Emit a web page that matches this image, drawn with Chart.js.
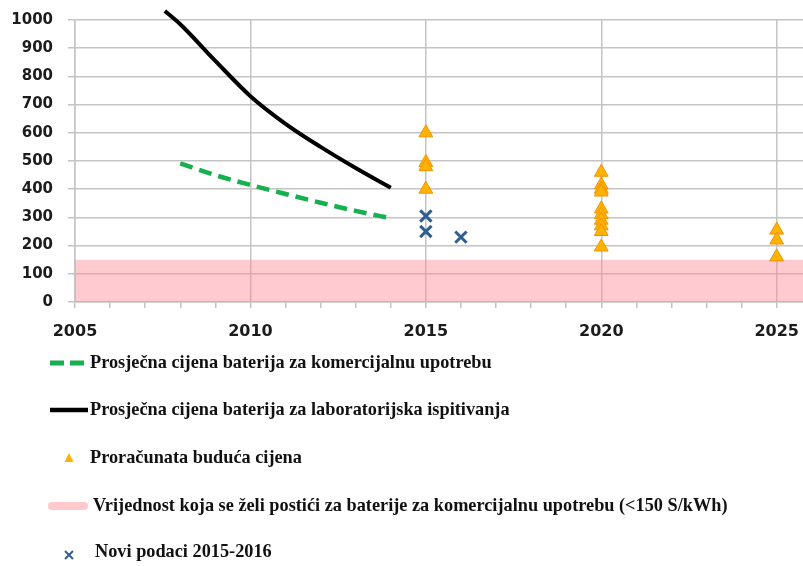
<!DOCTYPE html>
<html>
<head>
<meta charset="utf-8">
<script src="https://cdn.jsdelivr.net/npm/chart.js@4.4.1/dist/chart.umd.min.js"></script>
<style>
  html, body { margin: 0; padding: 0; background: #ffffff; }
  canvas { display: block; }
</style>
</head>
<body>
<canvas id="chart" width="803" height="566"></canvas>
<script>
// Average price of commercial battery packs ($/kWh)
const commercialYears = [2008, 2009, 2010, 2011, 2012, 2013, 2014];
const commercialPrice = [492, 450, 415, 383, 352, 323, 297];

// Average price of laboratory-tested cells ($/kWh)
const labYears = [2007.56, 2008, 2009, 2010, 2011, 2012, 2013, 2014];
const labPrice = [1032, 985, 855, 730, 632, 550, 475, 405];

// Projected future prices
const projectedYears = [2015, 2015, 2015, 2015,
  2020, 2020, 2020, 2020, 2020, 2020, 2020, 2020, 2020, 2020,
  2025, 2025, 2025];
const projectedPrice = [600, 495, 480, 400,
  460, 415, 400, 390, 330, 310, 290, 270, 250, 195,
  255, 220, 160];

// New data points 2015-2016
const newYears = [2015, 2015, 2016];
const newPrice = [305, 250, 230];

// Target band for commercial batteries (<150 $/kWh)
const targetYears = [2005, 2025.75];
const targetPrice = [150, 150];

// Axis ticks: one minor tick per year, labels every five years
const yTickValues = [0, 100, 200, 300, 400, 500, 600, 700, 800, 900, 1000];
const xTickYears = [2005, 2006, 2007, 2008, 2009, 2010, 2011, 2012, 2013, 2014, 2015,
  2016, 2017, 2018, 2019, 2020, 2021, 2022, 2023, 2024, 2025];
const xTickLabels = [2005, 2010, 2015, 2020, 2025];

const legendLabels = [
  'Prosječna cijena baterija za komercijalnu upotrebu',
  'Prosječna cijena baterija za laboratorijska ispitivanja',
  'Proračunata buduća cijena',
  'Vrijednost koja se želi postići za baterije za komercijalnu upotrebu (<150 S/kWh)',
  'Novi podaci 2015-2016'
];

const GREEN = '#16b04e';
const BLACK = '#000000';
const TRI_FILL = '#ffb300';
const TRI_EDGE = '#f39200';
const CROSS = '#2f5f92';
const PINK = 'rgba(255,140,150,0.45)';
const GRID = '#c4c4c4';

const toPoints = (xs, ys) => xs.map((x, i) => ({ x: x, y: ys[i] }));

// Scales keep no extra room for edge labels; the layout padding decides the plot box
const noEdgePadding = scale => {
  scale.paddingLeft = 0;
  scale.paddingRight = 0;
  scale.paddingTop = 0;
  scale.paddingBottom = 0;
};

// Legend drawn on the canvas below the plot
const sideLegend = {
  id: 'sideLegend',
  afterDraw(chart) {
    const ctx = chart.ctx;
    ctx.save();
    ctx.font = 'bold 18.3px "Liberation Serif"';
    ctx.fillStyle = '#111111';
    ctx.textBaseline = 'middle';
    ctx.textAlign = 'left';

    // 1: green dashed line
    ctx.strokeStyle = GREEN;
    ctx.lineWidth = 5;
    ctx.setLineDash([14, 6]);
    ctx.beginPath(); ctx.moveTo(50, 363); ctx.lineTo(84, 363); ctx.stroke();
    ctx.setLineDash([]);
    ctx.fillText(legendLabels[0], 90, 363);

    // 2: black line
    ctx.strokeStyle = BLACK;
    ctx.lineWidth = 4.5;
    ctx.beginPath(); ctx.moveTo(50, 410); ctx.lineTo(88, 410); ctx.stroke();
    ctx.fillText(legendLabels[1], 90, 410);

    // 3: triangle
    ctx.fillStyle = TRI_FILL;
    ctx.beginPath();
    ctx.moveTo(69, 453); ctx.lineTo(73.5, 462); ctx.lineTo(64.5, 462); ctx.closePath();
    ctx.fill();
    ctx.fillStyle = '#111111';
    ctx.fillText(legendLabels[2], 90, 458);

    // 4: pink band sample
    ctx.strokeStyle = '#ffc9ce';
    ctx.lineWidth = 8;
    ctx.lineCap = 'round';
    ctx.beginPath(); ctx.moveTo(52, 506); ctx.lineTo(84, 506); ctx.stroke();
    ctx.lineCap = 'butt';
    ctx.fillText(legendLabels[3], 93, 506);

    // 5: blue cross
    ctx.strokeStyle = CROSS;
    ctx.lineWidth = 2;
    ctx.beginPath();
    ctx.moveTo(65, 551); ctx.lineTo(73, 559);
    ctx.moveTo(73, 551); ctx.lineTo(65, 559);
    ctx.stroke();
    ctx.fillText(legendLabels[4], 95, 552);
    ctx.restore();
  }
};

Chart.defaults.font.family = '"DejaVu Sans"';

new Chart(document.getElementById('chart'), {
  type: 'line',
  data: {
    datasets: [
      {
        label: legendLabels[2],
        data: toPoints(projectedYears, projectedPrice),
        showLine: false,
        pointStyle: 'triangle',
        pointRadius: 8,
        pointBackgroundColor: TRI_FILL,
        pointBorderColor: TRI_EDGE,
        pointBorderWidth: 1
      },
      {
        label: legendLabels[4],
        data: toPoints(newYears, newPrice),
        showLine: false,
        pointStyle: 'crossRot',
        pointRadius: 8,
        pointBorderColor: CROSS,
        pointBorderWidth: 3
      },
      {
        label: legendLabels[1],
        data: toPoints(labYears, labPrice),
        borderColor: BLACK,
        borderWidth: 4,
        pointRadius: 0,
        cubicInterpolationMode: 'monotone',
        clip: { left: 0, top: 14, right: 0, bottom: 0 }
      },
      {
        label: legendLabels[0],
        data: toPoints(commercialYears, commercialPrice),
        borderColor: GREEN,
        borderWidth: 4.5,
        borderDash: [13, 7],
        pointRadius: 0,
        cubicInterpolationMode: 'monotone'
      },
      {
        label: legendLabels[3],
        data: toPoints(targetYears, targetPrice),
        borderWidth: 0,
        borderColor: 'transparent',
        backgroundColor: PINK,
        fill: 'origin',
        pointRadius: 0
      }
    ]
  },
  options: {
    responsive: false,
    animation: false,
    events: [],
    layout: { autoPadding: false, padding: { top: 20, left: 0, right: 0, bottom: 0 } },
    plugins: {
      legend: { display: false },
      tooltip: { enabled: false }
    },
    scales: {
      x: {
        type: 'linear',
        min: 2005,
        max: 2025.75,
        afterBuildTicks(scale) {
          scale.ticks = xTickYears.map(v => ({ value: v }));
        },
        afterFit(scale) {
          scale.height = 264;
          noEdgePadding(scale);
        },
        ticks: {
          autoSkip: false,
          maxRotation: 0,
          padding: 14,
          color: '#1c1c1c',
          font: { size: 16, weight: 'bold' },
          callback: v => (xTickLabels.includes(v) ? String(v) : '')
        },
        grid: {
          color: c => (c.tick && xTickLabels.includes(c.tick.value) ? GRID : 'transparent'),
          tickColor: GRID,
          lineWidth: 1.5,
          tickLength: 6
        },
        border: { color: GRID, width: 1.5 }
      },
      y: {
        min: 0,
        max: 1000,
        afterBuildTicks(scale) {
          scale.ticks = yTickValues.map(v => ({ value: v }));
        },
        afterFit(scale) {
          scale.width = 75;
          noEdgePadding(scale);
        },
        ticks: {
          padding: 15,
          color: '#1c1c1c',
          font: { size: 15, weight: 'bold' },
          callback: v => String(v)
        },
        grid: {
          color: GRID,
          lineWidth: 1.5,
          tickLength: 7
        },
        border: { color: GRID, width: 1.5 }
      }
    }
  },
  plugins: [sideLegend]
});
</script>
</body>
</html>
